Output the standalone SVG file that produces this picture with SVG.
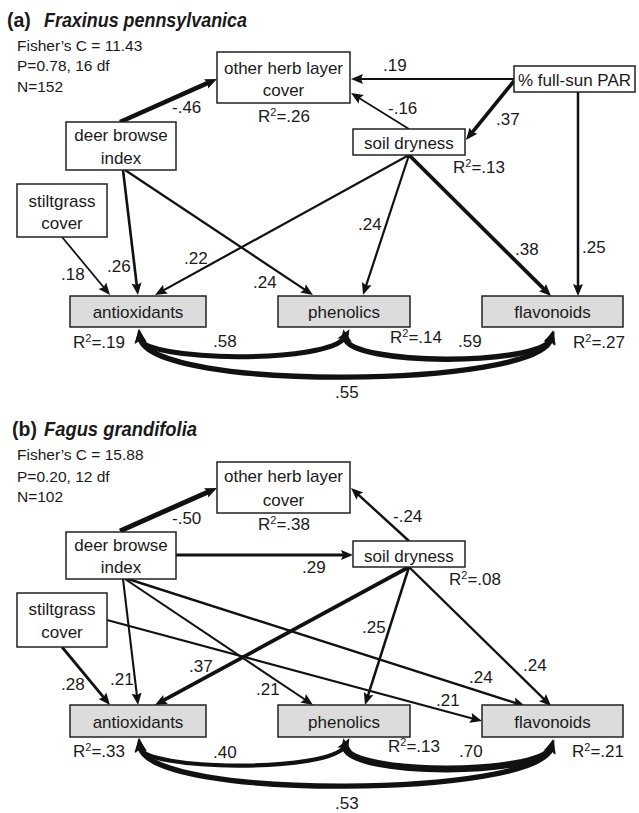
<svg xmlns="http://www.w3.org/2000/svg" width="639" height="813" viewBox="0 0 639 813">
<style>
text{font-family:"Liberation Sans",Arial,sans-serif;font-size:17px;fill:#1a1a1a}
.c{text-anchor:middle}
.st{font-size:15.5px}
.ti{font-size:19.5px;font-weight:bold}
.it{font-style:italic}
.box{fill:#fff;stroke:#222;stroke-width:1.5}
.g{fill:#dcdcdc}
.a{stroke:#111;fill:none;marker-end:url(#ah)}
.cv{stroke:#111;fill:none;marker-start:url(#hc);marker-end:url(#hc)}
</style>
<defs>
<marker id="ah" markerUnits="userSpaceOnUse" markerWidth="12" markerHeight="10" refX="4" refY="5" orient="auto" overflow="visible"><path d="M0,0 L12,5 L0,10 L2,5 z" fill="#111"/></marker>
<marker id="hc" markerUnits="userSpaceOnUse" markerWidth="14" markerHeight="12" refX="5" refY="6" orient="auto-start-reverse" overflow="visible"><path d="M0,0 L14,6 L0,12 L3,6 z" fill="#111"/></marker>
</defs>

<!-- Panel (a) header -->
<g id="a-title">
<text x="7" y="27" class="ti">(a) <tspan x="44" class="it" textLength="203" lengthAdjust="spacingAndGlyphs">Fraxinus pennsylvanica</tspan></text>
<text x="17" y="51" class="st">Fisher’s C = 11.43</text>
<text x="17" y="71" class="st">P=0.78, 16 df</text>
<text x="17" y="92" class="st">N=152</text>
</g>

<g id="a-connectors">
<line class="a" x1="120" y1="122" x2="209.7" y2="82.2" stroke-width="4.6"/>
<line class="a" x1="514" y1="79" x2="359" y2="79" stroke-width="2"/>
<line class="a" x1="409" y1="129" x2="357.8" y2="97.2" stroke-width="1.6"/>
<line class="a" x1="514" y1="81" x2="471" y2="133.8" stroke-width="3.7"/>
<line class="a" x1="578" y1="92" x2="578" y2="288" stroke-width="2.5"/>
<line class="a" x1="62" y1="237" x2="104.9" y2="288.8" stroke-width="1.8"/>
<line class="a" x1="123" y1="170" x2="137" y2="287.1" stroke-width="2.6"/>
<line class="a" x1="125" y1="170" x2="306.3" y2="290.6" stroke-width="2.2"/>
<line class="a" x1="409" y1="155" x2="162" y2="291.1" stroke-width="2.2"/>
<line class="a" x1="409" y1="155" x2="365.5" y2="287.4" stroke-width="2.2"/>
<line class="a" x1="409" y1="155" x2="545.3" y2="290.4" stroke-width="3.8"/>
<path class="cv" d="M140,338 C142,362 330,364 345,337" stroke-width="5"/>
<path class="cv" d="M345,338 C350,366 540,366 551,339" stroke-width="5.5"/>
<path class="cv" d="M140,338 C150,392 540,388 551,339" stroke-width="5.3"/>
<text x="172" y="113">-.46</text>
<text x="383" y="71">.19</text>
<text x="388" y="114">-.16</text>
<text x="496" y="125">.37</text>
<text x="582" y="253">.25</text>
<text x="61" y="280">.18</text>
<text x="107" y="272">.26</text>
<text x="184" y="264">.22</text>
<text x="253" y="288">.24</text>
<text x="358" y="230">.24</text>
<text x="515" y="255">.38</text>
<text x="213" y="347">.58</text>
<text x="458" y="347">.59</text>
<text x="335" y="398">.55</text>
</g>

<g id="a-herb">
<rect class="box" x="217" y="52" width="133" height="51"/>
<text class="c" x="283.5" y="74">other herb layer</text>
<text class="c" x="283.5" y="96">cover</text>
<text x="258" y="122">R<tspan dy="-6" font-size="11">2</tspan><tspan dy="6">=.26</tspan></text>
</g>
<g id="a-par">
<rect class="box" x="514" y="66" width="121" height="26"/>
<text class="c" x="574.5" y="86">% full-sun PAR</text>
</g>
<g id="a-deer">
<rect class="box" x="66" y="122" width="110" height="48"/>
<text class="c" x="121" y="141">deer browse</text>
<text class="c" x="121" y="164">index</text>
</g>
<g id="a-soil">
<rect class="box" x="353" y="129" width="112" height="26"/>
<text class="c" x="409" y="149">soil dryness</text>
<text x="453" y="173">R<tspan dy="-6" font-size="11">2</tspan><tspan dy="6">=.13</tspan></text>
</g>
<g id="a-stilt">
<rect class="box" x="17" y="184" width="90" height="53"/>
<text class="c" x="62" y="207">stiltgrass</text>
<text class="c" x="62" y="229">cover</text>
</g>
<g id="a-anti">
<rect class="box g" x="70" y="296" width="136" height="31"/>
<text class="c" x="138" y="318">antioxidants</text>
<text x="73" y="348">R<tspan dy="-6" font-size="11">2</tspan><tspan dy="6">=.19</tspan></text>
</g>
<g id="a-phen">
<rect class="box g" x="278" y="296" width="132" height="31"/>
<text class="c" x="344" y="318">phenolics</text>
<text x="390" y="343">R<tspan dy="-6" font-size="11">2</tspan><tspan dy="6">=.14</tspan></text>
</g>
<g id="a-flav">
<rect class="box g" x="482" y="296" width="141" height="31"/>
<text class="c" x="552.5" y="318">flavonoids</text>
<text x="573" y="348">R<tspan dy="-6" font-size="11">2</tspan><tspan dy="6">=.27</tspan></text>
</g>

<!-- Panel (b) header -->
<g id="b-title">
<text x="12" y="436" class="ti">(b) <tspan x="44" class="it" textLength="153" lengthAdjust="spacingAndGlyphs">Fagus grandifolia</tspan></text>
<text x="17" y="460" class="st">Fisher’s C = 15.88</text>
<text x="17" y="482" class="st">P=0.20, 12 df</text>
<text x="17" y="502" class="st">N=102</text>
</g>

<g id="b-connectors">
<line class="a" x1="120" y1="531" x2="209.7" y2="491.2" stroke-width="5"/>
<line class="a" x1="176" y1="555" x2="345" y2="555" stroke-width="2.9"/>
<line class="a" x1="409" y1="541" x2="356.9" y2="493.4" stroke-width="2.4"/>
<line class="a" x1="62" y1="647" x2="104.9" y2="698.8" stroke-width="2.8"/>
<line class="a" x1="123" y1="579" x2="137.1" y2="697.1" stroke-width="2.1"/>
<line class="a" x1="409" y1="567" x2="162" y2="701.2" stroke-width="3.7"/>
<line class="a" x1="125" y1="579" x2="306.4" y2="700.5" stroke-width="2.1"/>
<line class="a" x1="128" y1="579" x2="517.4" y2="703.6" stroke-width="2.4"/>
<line class="a" x1="107" y1="620" x2="474.3" y2="718.9" stroke-width="2.1"/>
<line class="a" x1="409" y1="567" x2="367.4" y2="697.4" stroke-width="2.5"/>
<line class="a" x1="409" y1="567" x2="545.3" y2="700.4" stroke-width="2.4"/>
<path class="cv" d="M140,747 C142,771 330,773 345,746" stroke-width="4.2"/>
<path class="cv" d="M345,747 C350,776 540,776 551,748" stroke-width="7"/>
<path class="cv" d="M140,747 C150,801 540,797 551,748" stroke-width="5.3"/>
<text x="172" y="524">-.50</text>
<text x="302" y="573">.29</text>
<text x="393" y="522">-.24</text>
<text x="61" y="690">.28</text>
<text x="110" y="685">.21</text>
<text x="189" y="672">.37</text>
<text x="256" y="695">.21</text>
<text x="362" y="633">.25</text>
<text x="469" y="683">.24</text>
<text x="523" y="671">.24</text>
<text x="436" y="706">.21</text>
<text x="213" y="758">.40</text>
<text x="459" y="757">.70</text>
<text x="335" y="809">.53</text>
</g>

<g id="b-herb">
<rect class="box" x="217" y="462" width="133" height="51"/>
<text class="c" x="283.5" y="482">other herb layer</text>
<text class="c" x="283.5" y="506">cover</text>
<text x="258" y="530">R<tspan dy="-6" font-size="11">2</tspan><tspan dy="6">=.38</tspan></text>
</g>
<g id="b-deer">
<rect class="box" x="66" y="532" width="110" height="47"/>
<text class="c" x="121" y="551">deer browse</text>
<text class="c" x="121" y="573">index</text>
</g>
<g id="b-soil">
<rect class="box" x="353" y="541" width="112" height="26"/>
<text class="c" x="409" y="562">soil dryness</text>
<text x="449" y="585">R<tspan dy="-6" font-size="11">2</tspan><tspan dy="6">=.08</tspan></text>
</g>
<g id="b-stilt">
<rect class="box" x="17" y="593" width="90" height="54"/>
<text class="c" x="62" y="615">stiltgrass</text>
<text class="c" x="62" y="638">cover</text>
</g>
<g id="b-anti">
<rect class="box g" x="70" y="705" width="136" height="32"/>
<text class="c" x="138" y="728">antioxidants</text>
<text x="73" y="757">R<tspan dy="-6" font-size="11">2</tspan><tspan dy="6">=.33</tspan></text>
</g>
<g id="b-phen">
<rect class="box g" x="278" y="705" width="132" height="32"/>
<text class="c" x="344" y="728">phenolics</text>
<text x="388" y="752">R<tspan dy="-6" font-size="11">2</tspan><tspan dy="6">=.13</tspan></text>
</g>
<g id="b-flav">
<rect class="box g" x="482" y="705" width="141" height="32"/>
<text class="c" x="552.5" y="728">flavonoids</text>
<text x="572" y="757">R<tspan dy="-6" font-size="11">2</tspan><tspan dy="6">=.21</tspan></text>
</g>
</svg>
